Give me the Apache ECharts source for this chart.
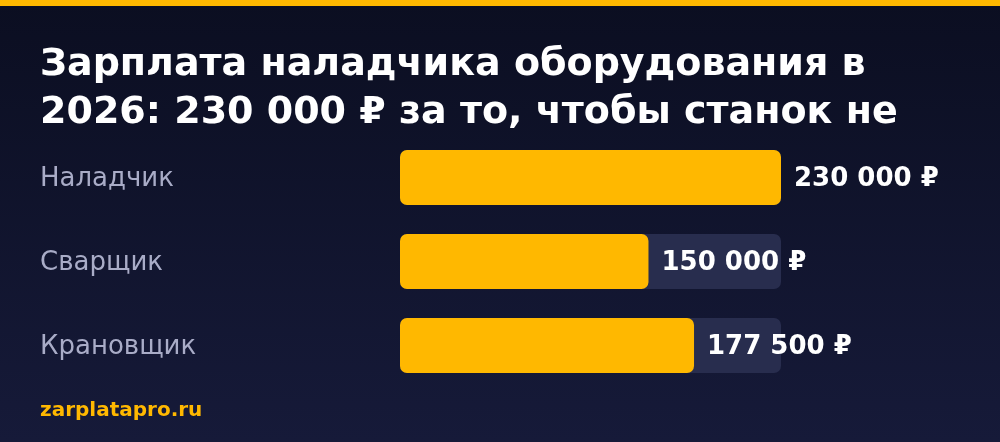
<!DOCTYPE html>
<html>
<head>
<meta charset="utf-8">
<script src="https://cdn.jsdelivr.net/npm/echarts@6/dist/echarts.min.js"></script>
<style>
  html, body { margin: 0; padding: 0; background: #0c0f24; }
  #myChart { width: 1000px; height: 442px; }
</style>
</head>
<body>
<div id="myChart"></div>
<script>
var categories = ["Наладчик", "Сварщик", "Крановщик"];
var salaries = [230000, 150000, 177500];
var maxSalary = 230000;

var chartDom = document.getElementById("myChart");
var myChart = echarts.init(chartDom);
var option;

var fmt = function (v) {
  return String(v).replace(/\B(?=(\d{3})+(?!\d))/g, " ") + " ₽";
};

option = {
  backgroundColor: {
    type: "linear",
    x: 0, y: 0, x2: 0, y2: 1,
    colorStops: [
      { offset: 0, color: "#0b0e21" },
      { offset: 1, color: "#161a39" },
    ],
  },
  textStyle: { fontFamily: "DejaVu Sans" },
  graphic: [
    {
      type: "rect",
      left: 0,
      top: 0,
      shape: { width: 1000, height: 6 },
      style: { fill: "#ffb800" },
    },
  ],
  title: [
    {
      text: "Зарплата наладчика оборудования в\n2026: 230 000 ₽ за то, чтобы станок не",
      left: 35,
      top: 36,
      textStyle: {
        color: "#ffffff",
        fontSize: 38,
        fontWeight: "bold",
        lineHeight: 48,
        fontFamily: "DejaVu Sans",
      },
    },
    {
      text: "zarplatapro.ru",
      left: 35,
      top: 396,
      textStyle: {
        color: "#ffb800",
        fontSize: 20,
        fontWeight: "bold",
        fontFamily: "DejaVu Sans",
      },
    },
  ],
  grid: {
    left: 400,
    width: 381,
    top: 135.5,
    height: 252,
  },
  xAxis: {
    type: "value",
    min: 0,
    max: maxSalary,
    show: false,
  },
  yAxis: {
    type: "category",
    data: categories,
    inverse: true,
    axisLine: { show: false },
    axisTick: { show: false },
    splitLine: { show: false },
    axisLabel: {
      align: "left",
      margin: 360,
      formatter: "{c|{value}}",
      rich: {
        c: {
          color: "#a9acc7",
          fontSize: 26,
          padding: [4, 0, 0, 0],
          fontFamily: "DejaVu Sans",
        },
      },
    },
  },
  series: [
    {
      type: "bar",
      data: salaries,
      barWidth: 55,
      showBackground: true,
      backgroundStyle: {
        color: "#282d4e",
        borderRadius: 7,
      },
      itemStyle: {
        color: "#ffb800",
        borderRadius: 7,
      },
      label: {
        show: true,
        position: "right",
        distance: 13,
        offset: [0, 2],
        color: "#ffffff",
        fontSize: 26,
        fontWeight: "bold",
        fontFamily: "DejaVu Sans",
        formatter: function (p) {
          return fmt(p.value);
        },
      },
      animation: false,
    },
  ],
};

option && myChart.setOption(option);
</script>
</body>
</html>
